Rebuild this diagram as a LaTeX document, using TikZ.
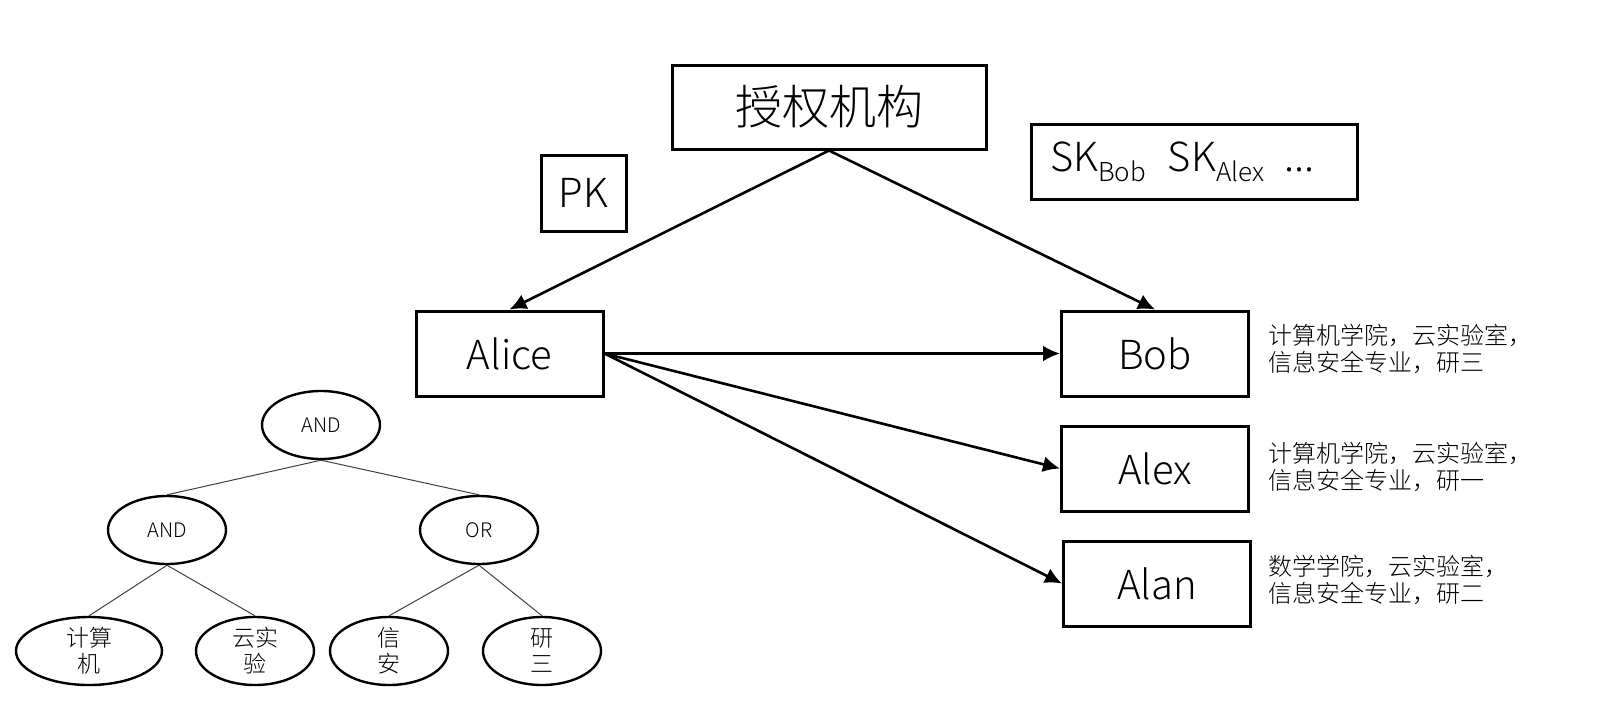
\documentclass[tikz,border=0pt]{standalone}
\usepackage{fontspec}
\setmainfont{Noto Sans CJK SC}[UprightFont = * Light]
\usepackage{tikz}
\usetikzlibrary{shapes,arrows.meta}
\newcommand{\lowsub}[1]{\raisebox{-0.45ex}{\fontsize{13pt}{13pt}\selectfont #1}}

\begin{document}
\begin{tikzpicture}[x=0.5pt,y=-0.5pt,every node/.style = {align = center, inner sep = 0pt},box/.style = {shape = rectangle, draw, line width = 1.5pt, font = \fontsize{20pt}{22pt}\selectfont},gate/.style = {shape = ellipse, draw, line width = 1.2pt, minimum width = 59pt, minimum height = 34pt, font = \fontsize{10pt}{11pt}\selectfont},leaf/.style = {gate, font = \fontsize{11.5pt}{13pt}\selectfont},note/.style = {anchor = west, align = left, font = \fontsize{12pt}{13.7pt}\selectfont},black edge/.style = {-{Latex[length=8.5pt,width=8pt]}, line width = 1.3pt},tree edge/.style = {-, line width = 0.5pt, black!75}]
\useasboundingbox (0,0) rectangle (1610,718);
\node[box, minimum width = 157pt, minimum height = 42pt, font = \fontsize{23.5pt}{26pt}\selectfont](0;0) at (829,107) {授权机构};
  \node[box, minimum width = 42.5pt, minimum height = 38pt](pk) at (583.5,193) {PK};
  \node[box, minimum height = 37.5pt, text width = 144pt, inner xsep = 9.5pt, align = left](sk) at (1194,161.5) {SK\lowsub{Bob}\hspace{11pt}SK\lowsub{Alex}\hspace{10pt}...};
  \node[box, minimum width = 93.5pt, minimum height = 42.5pt](1;0) at (509.5,353.5) {Alice};
  \node[box, minimum width = 93.5pt, minimum height = 42.5pt](2;1) at (1155,353.5) {Bob};
  \node[box, minimum width = 93.5pt, minimum height = 42.5pt](2;0) at (1155,468.5) {Alex};
  \node[box, minimum width = 93.5pt, minimum height = 42.5pt](2;-1) at (1157,583.5) {Alan};

  \node[note](n;1) at (1268,349) {计算机学院，云实验室，\\信息安全专业，研三};
  \node[note](n;0) at (1268,467) {计算机学院，云实验室，\\信息安全专业，研一};
  \node[note](n;-1) at (1268,580) {数学学院，云实验室，\\信息安全专业，研二};

\draw[black edge](0;0.south) -- (1;0.north);
\draw[black edge](0;0.south) -- (2;1.north);
\foreach \j in {1,0,-1}
  { \draw[black edge] (1;0.east) -- (2;\j.west); }

% access tree
\node[gate](t0;0) at (321,425) {AND};
  \node[gate](t1;1) at (167,530) {AND};
  \node[gate](t1;2) at (479,530) {OR};
  \node[leaf, minimum width = 73pt](t2;1) at (89,651) {计算\\机};
  \node[leaf](t2;2) at (255,651) {云实\\验};
  \node[leaf](t2;3) at (389,651) {信\\安};
  \node[leaf](t2;4) at (542,651) {研\\三};

\foreach \j in {1,2}
  { \draw[tree edge] (t0;0.south) -- (t1;\j.north); }
\foreach \j in {1,2}
  { \draw[tree edge] (t1;1.south) -- (t2;\j.north); }
\foreach \j in {3,4}
  { \draw[tree edge] (t1;2.south) -- (t2;\j.north); }

\end{tikzpicture}
\end{document}
